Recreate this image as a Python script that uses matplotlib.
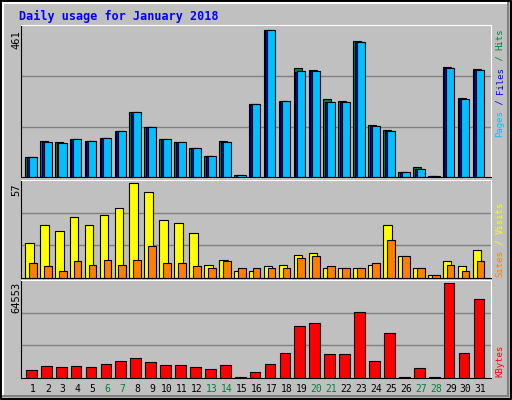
import numpy as np
import matplotlib.pyplot as plt

# values
days = np.arange(1, 32)
hits = [64, 113, 110, 119, 113, 123, 144, 204, 157, 119, 110, 91, 66, 113, 7, 229,
        461, 238, 343, 336, 245, 239, 427, 163, 147, 16, 31, 3, 345, 248, 339]
files = [64, 111, 108, 119, 113, 122, 144, 204, 157, 119, 110, 91, 66, 111, 7, 229,
         461, 238, 330, 334, 236, 236, 424, 161, 144, 16, 26, 2, 343, 246, 336]
pages = [64, 110, 107, 119, 113, 122, 144, 204, 157, 119, 110, 91, 66, 110, 6, 229,
         461, 238, 333, 333, 236, 236, 423, 161, 144, 16, 26, 2, 343, 246, 336]
sites = [21, 32, 28, 37, 32, 38, 42, 57, 52, 35, 33, 27, 8, 11, 4, 4,
         7, 8, 14, 15, 6, 6, 6, 8, 32, 13, 6, 2, 10, 7, 17]
visits = [9, 7, 4, 10, 8, 11, 8, 11, 19, 9, 9, 7, 6, 10, 6, 6,
          6, 6, 12, 13, 7, 6, 6, 9, 23, 13, 6, 2, 8, 4, 10]
kbytes = [5180, 8010, 7300, 8010, 7300, 9420, 11540, 13660, 10840, 8720, 8720, 7300,
          5890, 8720, 700, 3770, 9420, 17200, 35580, 37700, 16490, 16490, 44760, 11540,
          30630, 700, 6600, 700, 64553, 17200, 53950]
weekends = [6, 7, 13, 14, 20, 21, 27, 28]

W, H = 512, 400
fig = plt.figure(figsize=(W / 100, H / 100), dpi=100)
fig.patch.set_facecolor('#C0C0C0')
mono = 'DejaVu Sans Mono'

# bevelled frame
bg = fig.add_axes([0, 0, 1, 1])
bg.set_xlim(0, W); bg.set_ylim(H, 0); bg.axis('off')
bg.plot([1, W - 1, W - 1, 1, 1], [1, 1, H - 1, H - 1, 1], color='black', lw=1.5)
bg.plot([3, W - 4], [3, 3], color='white', lw=1.5)
bg.plot([3, 3], [3, H - 4], color='white', lw=1.5)
bg.plot([W - 4, W - 4], [3, H - 4], color='#808080', lw=1.5)
bg.plot([3, W - 4], [H - 4, H - 4], color='#808080', lw=1.5)
bg.text(19, 16, 'Daily usage for January 2018', color='#0000FF', fontsize=8.5,
        fontweight='bold', family=mono, va='center')


def panel(top, bottom):
    ax = fig.add_axes([20.7 / W, 1 - bottom / H, 470 / W, (bottom - top) / H])
    ax.set_facecolor('#C0C0C0')
    ax.set_xlim(0.18, 31.68)
    ax.set_xticks([]); ax.set_yticks([])
    for s in ax.spines.values():
        s.set_color('black')
    ax.spines['top'].set_color('white')
    ax.spines['right'].set_color('white')
    return ax


def grid(ax, m):
    ax.set_ylim(0, m * 1.035)
    for f in (1 / 3, 2 / 3):
        ax.axhline(m * f * 1.03, color='#808080', lw=1, zorder=0)


bw = 0.54
ax1 = panel(25, 177)
grid(ax1, max(hits))
ax1.bar(days - 0.53, hits, bw, align='edge', color='#008040', edgecolor='black', lw=0.8)
ax1.bar(days - 0.42, files, bw, align='edge', color='#0000FF', edgecolor='black', lw=0.8)
ax1.bar(days - 0.29, pages, bw, align='edge', color='#00C0FF', edgecolor='black', lw=0.8)

ax2 = panel(180, 278)
grid(ax2, max(sites))
ax2.bar(days - 0.53, sites, 0.58, align='edge', color='#FFFF00', edgecolor='black', lw=0.8)
ax2.bar(days - 0.27, visits, 0.52, align='edge', color='#FF8000', edgecolor='black', lw=0.8)

ax3 = panel(280, 378)
grid(ax3, max(kbytes))
ax3.bar(days - 0.47, kbytes, 0.72, align='edge', color='#FF0000', edgecolor='black', lw=0.8)

# day labels
for d in days:
    x = 20.7 + (d - 0.18) / 31.5 * 470
    bg.text(x, 389, str(d), ha='center', va='center', fontsize=7, family=mono,
            color='#008040' if d in weekends else 'black')

# max values on the left
for txt, y in (('461', 30), ('57', 183), ('64553', 282)):
    bg.text(16, y, txt, rotation=90, ha='center', va='top', fontsize=7.5, family=mono)

# rotated legends on the right, one coloured piece after another
fs = 6.5
step = 0.602 * fs * 100 / 72


def side(parts, ybot):
    y = ybot
    for txt, col in parts:
        bg.text(500, y, txt, rotation=90, ha='center', va='bottom', fontsize=fs,
                family=mono, color=col)
        y -= len(txt) * step


side([('Pages', '#00C0FF'), (' / ', '#0000FF'), ('Files', '#0000FF'),
      (' / ', '#008040'), ('Hits', '#008040')], 137)
side([('Sites', '#FF8000'), (' / ', '#FFFF00'), ('Visits', '#FFFF00')], 277)
side([('KBytes', '#FF0000')], 377)

fig.savefig('out.png', dpi=100, facecolor=fig.get_facecolor())
